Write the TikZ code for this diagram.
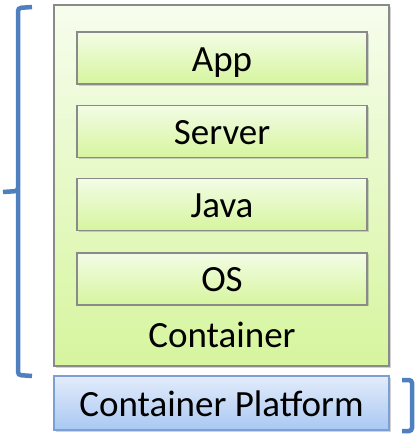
\documentclass[tikz,border=0pt]{standalone}
\usepackage{fontspec}
\setmainfont{Carlito}
\usetikzlibrary{positioning,shadows}

\definecolor{boxline}{HTML}{8A8A8A}
\definecolor{greentop}{HTML}{F3FCE6}
\definecolor{greenbot}{HTML}{D6F59E}
\definecolor{bluetop}{HTML}{E3ECFB}
\definecolor{bluebot}{HTML}{A9C8F2}
\definecolor{blueline}{HTML}{7C9FD4}
\definecolor{bracecol}{HTML}{4F7FBF}

\tikzstyle{every node}=[inner sep=0pt,text height=28pt,text depth=2pt,font=\fontsize{37}{42}\selectfont]
\tikzstyle{shade}=[drop shadow={shadow xshift=1.5pt,shadow yshift=-1.5pt,opacity=.35}]
\tikzstyle{layer}=[draw=boxline,line width=1.3pt,shade,top color=greentop,bottom color=greenbot,
  minimum width=290pt,minimum height=52pt]
\tikzstyle{brace}=[draw=bracecol,line width=4.5pt,rounded corners=3pt]

\begin{document}
\begin{tikzpicture}[x=1pt,y=-1pt]
  \useasboundingbox (0,0) rectangle (419,437);
  % outer container
  \node[draw=boxline,line width=1.3pt,shade,top color=greentop!70!white,bottom color=greenbot,
    minimum width=335pt,minimum height=361pt] (container) at (221.5,185.5) {};
  % stack
  \node[layer] (app) at (222,58) {App};
  \node[layer,below=20pt of app] (server) {Server};
  \node[layer,below=20pt of server] (java) {Java};
  \node[layer,below=21pt of java] (os) {OS};
  \node (clabel) at (222,334) {Container};
  % platform
  \node[draw=blueline,line width=1.3pt,shade,top color=bluetop,bottom color=bluebot,
    minimum width=335pt,minimum height=54pt] (platform) at (221.5,403) {Container Platform};
  % brackets
  \draw[brace] (32,7) -- (18,8) -- (18,191) -- (3,192);
  \draw[brace] (18,189) -- (18,375) -- (32,376);
  \draw[brace] (402,380) -- (412,380) -- (412,431) -- (402,431);
\end{tikzpicture}
\end{document}
